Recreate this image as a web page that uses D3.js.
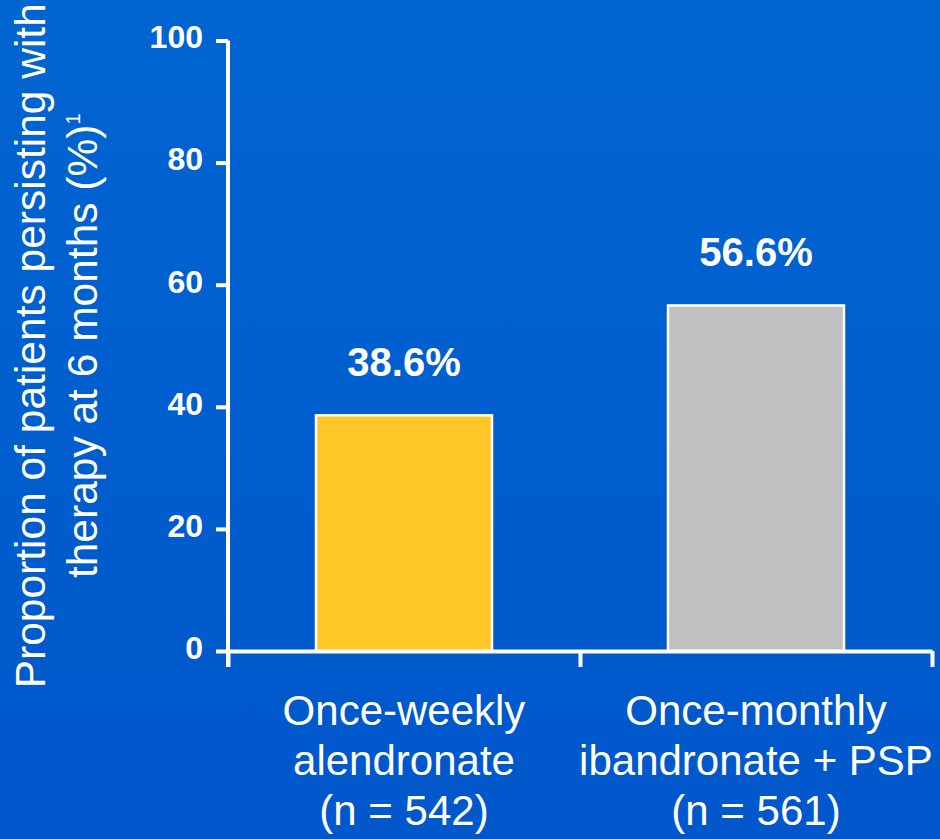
<!DOCTYPE html>
<html>
<head>
<meta charset="utf-8">
<script src="https://cdn.jsdelivr.net/npm/d3@7"></script>
<style>
  html, body { margin: 0; padding: 0; background: #005ecd; }
  svg { display: block; }
</style>
</head>
<body>
<div id="chart"></div>
<script>
// Persistence with therapy at 6 months, by treatment group
const categories = [
  ["Once-weekly", "alendronate", "(n = 542)"],
  ["Once-monthly", "ibandronate + PSP", "(n = 561)"]
];
const values = [38.6, 56.6];
const barColors = ["#ffc627", "#c0c0c0"];
const yTicks = [0, 20, 40, 60, 80, 100];
const yTitle = ["Proportion of patients persisting with", "therapy at 6 months (%)"];
const yTitleNote = "1";

const W = 940, H = 839;
const margin = { left: 228, right: 8, top: 40.5, bottom: 188 };
const font = "'Liberation Sans', Arial, Helvetica, sans-serif";

const svg = d3.select("#chart").append("svg")
  .attr("width", W).attr("height", H);

// background
const defs = svg.append("defs");
const grad = defs.append("linearGradient").attr("id", "bg")
  .attr("x1", 0).attr("y1", 0).attr("x2", 0).attr("y2", 1);
grad.append("stop").attr("offset", "0%").attr("stop-color", "#0065d1");
grad.append("stop").attr("offset", "100%").attr("stop-color", "#0057cb");
svg.append("rect").attr("width", W).attr("height", H).attr("fill", "url(#bg)");

const y = d3.scaleLinear().domain([0, 100]).range([H - margin.bottom, margin.top]);
const x = d3.scaleBand().domain(d3.range(categories.length))
  .range([margin.left, W - margin.right]).paddingInner(0.5).paddingOuter(0.25);
const xEdge = d3.scaleLinear().domain([0, categories.length])
  .range([margin.left, W - margin.right]);

// bars
svg.append("g").selectAll("rect").data(values).join("rect")
  .attr("x", (d, i) => x(i))
  .attr("y", d => y(d))
  .attr("width", x.bandwidth())
  .attr("height", d => y(0) - y(d))
  .attr("fill", (d, i) => barColors[i])
  .attr("stroke", "#ffffff")
  .attr("stroke-width", 2.5);

// value labels
svg.append("g").selectAll("text").data(values).join("text")
  .attr("x", (d, i) => x(i) + x.bandwidth() / 2)
  .attr("y", d => y(d) - 39)
  .attr("text-anchor", "middle")
  .attr("fill", "#ffffff")
  .style("font-family", font)
  .style("font-weight", "bold")
  .style("font-size", "40px")
  .text(d => d3.format(".1f")(d) + "%");

// y axis
const yAxis = svg.append("g")
  .attr("transform", `translate(${margin.left},0)`)
  .call(d3.axisLeft(y).tickValues(yTicks).tickSize(12).tickSizeOuter(0).tickPadding(13));
yAxis.select(".domain")
  .attr("d", `M0,${y(100)}V${y(0) + 16}`)
  .attr("stroke", "#ffffff").attr("stroke-width", 4);
yAxis.selectAll(".tick line").attr("stroke", "#ffffff").attr("stroke-width", 4);
yAxis.selectAll(".tick text")
  .attr("fill", "#ffffff")
  .attr("dy", "0.23em")
  .style("font-family", font)
  .style("font-weight", "bold")
  .style("font-size", "32px");

// x axis (ticks at category boundaries)
const xAxis = svg.append("g")
  .attr("transform", `translate(0,${y(0)})`)
  .call(d3.axisBottom(xEdge).tickValues(d3.range(categories.length + 1))
    .tickSize(16).tickSizeOuter(0).tickFormat(""));
xAxis.select(".domain").attr("stroke", "#ffffff").attr("stroke-width", 4);
xAxis.selectAll(".tick line").attr("stroke", "#ffffff").attr("stroke-width", 4);

// category labels
const catG = svg.append("g").selectAll("text").data(categories).join("text")
  .attr("text-anchor", "middle")
  .attr("fill", "#ffffff")
  .style("font-family", font)
  .style("font-size", "42px");
catG.selectAll("tspan").data((d, i) => d.map(t => ({ t, i }))).join("tspan")
  .attr("x", d => x(d.i) + x.bandwidth() / 2)
  .attr("y", (d, j) => 725 + j * 50)
  .text(d => d.t);

// y axis title
const title = svg.append("text")
  .attr("transform", `translate(45,${(y(0) + y(100)) / 2}) rotate(-90)`)
  .attr("text-anchor", "middle")
  .attr("fill", "#ffffff")
  .style("font-family", font)
  .style("font-size", "42.5px");
title.append("tspan").attr("x", 0).attr("y", 0).text(yTitle[0]);
const line2 = title.append("tspan").attr("x", 0).attr("y", 52);
line2.append("tspan").text(yTitle[1]);
line2.append("tspan")
  .attr("dy", -17)
  .style("font-size", "20px")
  .text(yTitleNote);
</script>
</body>
</html>
